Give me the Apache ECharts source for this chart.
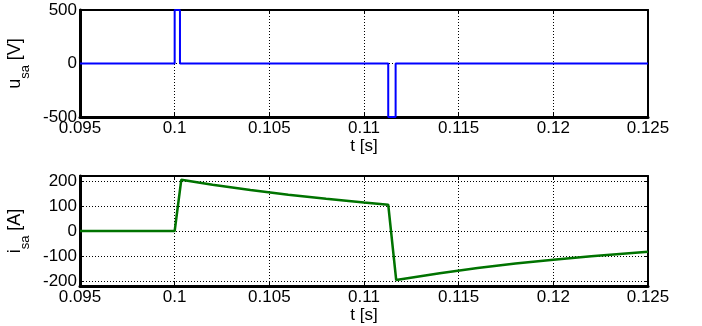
<!DOCTYPE html>
<html><head><meta charset="utf-8">
<script src="https://cdn.jsdelivr.net/npm/echarts@6/dist/echarts.min.js"></script>
<style>html,body{margin:0;padding:0;background:#fff}#c{width:702px;height:326px}</style>
</head><body><div id="c"></div>
<script>
// Voltage u_sa [V]
const tVoltage = [0.095, 0.1, 0.1, 0.10028, 0.10028, 0.11128, 0.11128, 0.11167, 0.11167, 0.125];
const uVoltage = [0, 0, 500, 500, 0, 0, -500, -500, 0, 0];
// Current i_sa [A]
const tCurrent = [0.095, 0.1, 0.10035, 0.102, 0.104, 0.106, 0.108, 0.110, 0.11128, 0.1117, 0.114, 0.116, 0.118, 0.120, 0.122, 0.125];
const iCurrent = [0, 0, 205, 185, 164, 145, 129, 114, 105, -196, -169, -148, -130, -115, -101, -83];
// Tick labels
const xTicks = [0.095, 0.1, 0.105, 0.11, 0.115, 0.12, 0.125];
const uTicks = [-500, 0, 500];
const iTicks = [-200, -100, 0, 100, 200];
const xRange = [0.095, 0.125];
const uRange = [-500, 500];
const iRange = [-220, 220];

const FONT = 'Liberation Sans, Arial, Helvetica, sans-serif';
const FS = 17;
const fmtX = v => String(parseFloat(Number(v).toFixed(4)));

function xAxes(gridIndex) {
  return [
    {
      type: 'value', gridIndex, position: 'bottom', min: xRange[0], max: xRange[1], interval: 0.005,
      name: 't [s]', nameLocation: 'middle', nameGap: 16,
      nameTextStyle: { fontFamily: FONT, fontSize: FS, color: '#000' },
      axisLine: { show: true, onZero: false, lineStyle: { color: '#000', width: 3 } },
      axisTick: { show: true, inside: true, length: 4, customValues: xTicks, lineStyle: { color: '#000', width: 1 } },
      axisLabel: { show: true, margin: 3, customValues: xTicks, formatter: fmtX, fontFamily: FONT, fontSize: FS, color: '#000', showMinLabel: true, showMaxLabel: true },
      splitLine: { show: true, lineStyle: { color: '#000', width: 1, type: [1, 2] } }
    },
    {
      type: 'value', gridIndex, position: 'top', min: xRange[0], max: xRange[1], interval: 0.005,
      axisLine: { show: true, onZero: false, lineStyle: { color: '#000', width: 2 } },
      axisTick: { show: true, inside: true, length: 4, customValues: xTicks, lineStyle: { color: '#000', width: 1 } },
      axisLabel: { show: false },
      splitLine: { show: false }
    }
  ];
}

function yAxes(gridIndex, range, ticks, richName) {
  return [
    {
      type: 'value', gridIndex, position: 'left', min: range[0], max: range[1],
      name: richName, nameLocation: 'middle', nameRotate: 90, nameGap: 28,
      nameTextStyle: {
        fontFamily: FONT, color: '#000',
        rich: {
          n: { fontFamily: FONT, fontSize: 18, lineHeight: 18, verticalAlign: 'top', color: '#000' },
          s: { fontFamily: FONT, fontSize: 13, lineHeight: 26, verticalAlign: 'bottom', color: '#000' }
        }
      },
      axisLine: { show: true, onZero: false, lineStyle: { color: '#000', width: 3 } },
      axisTick: { show: true, inside: true, length: 4, customValues: ticks, lineStyle: { color: '#000', width: 1 } },
      axisLabel: { show: true, margin: 3, customValues: ticks, fontFamily: FONT, fontSize: FS, color: '#000', showMinLabel: true, showMaxLabel: true },
      splitLine: { show: true, lineStyle: { color: '#000', width: 1, type: [1, 2] } }
    },
    {
      type: 'value', gridIndex, position: 'right', min: range[0], max: range[1],
      axisLine: { show: true, onZero: false, lineStyle: { color: '#000', width: 2 } },
      axisTick: { show: true, inside: true, length: 4, customValues: ticks, lineStyle: { color: '#000', width: 1 } },
      axisLabel: { show: false },
      splitLine: { show: false }
    }
  ];
}

const chart = echarts.init(document.getElementById('c'), null, { renderer: 'canvas', width: 702, height: 326 });
chart.setOption({
  backgroundColor: '#fff',
  animation: false,
  grid: [
    { left: 80, top: 10, width: 568, height: 107, show: false, containLabel: false, outerBoundsMode: 'none' },
    { left: 80, top: 176, width: 568, height: 110, show: false, containLabel: false, outerBoundsMode: 'none' }
  ],
  xAxis: [...xAxes(0), ...xAxes(1)],
  yAxis: [
    ...yAxes(0, uRange, uTicks, '{n|u}{s|sa}{n| [V]}'),
    ...yAxes(1, iRange, iTicks, '{n|i}{s|sa}{n| [A]}')
  ],
  series: [
    {
      type: 'line', xAxisIndex: 0, yAxisIndex: 0, showSymbol: false, symbol: 'none',
      data: tVoltage.map((t, k) => [t, uVoltage[k]]),
      lineStyle: { color: '#0000ff', width: 2 }, z: 5
    },
    {
      type: 'line', xAxisIndex: 2, yAxisIndex: 2, showSymbol: false, symbol: 'none',
      data: tCurrent.map((t, k) => [t, iCurrent[k]]),
      lineStyle: { color: '#007300', width: 2.5 }, z: 5
    }
  ]
});
</script>
</body></html>
